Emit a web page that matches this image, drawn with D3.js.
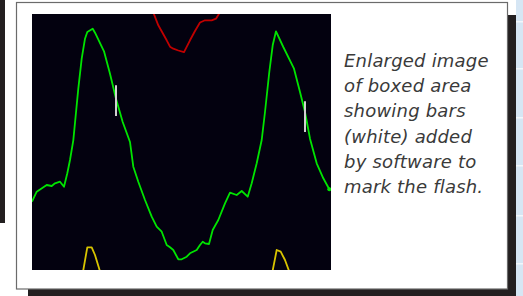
<!DOCTYPE html>
<html><head><meta charset="utf-8">
<script src="https://cdn.jsdelivr.net/npm/d3@7"></script>
<style>html,body{margin:0;padding:0;background:#fff;overflow:hidden}</style>
</head><body>
<script>
// ---- data (x = sample position, y = signal level) ----
const greenX = [0,4.7,14.7,19.7,23,28,32,35.3,38,41.3,46.3,49.7,53,55.3,60.7,63,72,78,84,90.7,98,101.3,106.3,113,119.7,124.7,129.7,134.7,138,141.3,146.3,149.7,154.7,158,164.7,168,170.7,173,177,180.7,186.3,193,198,204.7,209.7,215.7,219.7,224.7,229.7,233,237.3,240.7,244,251.3,262,268,273,278,284.7,291.3,297.3];
const greenY = [68.3,78.3,85,84,86.7,88.3,83.3,96.7,110,129.7,181.3,211.3,231.3,238,241.3,237.3,218.7,196.3,171.3,148,128,103.3,88.3,70,53.3,43.3,38.3,25,22.7,20,10.7,10.7,13.3,16.7,20,25,28.3,26.7,26,40,50,66.7,77.3,75,79,73.3,86.7,106.7,130,158,198,224.7,238.7,223,201.3,178,158,131.3,106.7,91.7,80.7];
const redX = [120.5,121.5,126.3,134.7,138,141.3,146.3,152,158,163,168,173,179.7,184,187.5,188.5];
const redY = [260,257,244.7,229.7,223.3,221.3,219.5,217.8,229.7,239,247.5,249.7,249.7,251.3,257,260];
const yellow1X = [50.8,55.3,59.7,63,68.5];
const yellow1Y = [-3,22.7,22.7,15,-3];
const yellow2X = [240.2,244.7,248.7,253,257.8];
const yellow2Y = [-3,20,18.3,10,-3];
const flashX = [84,273];
const flashTop = [184.7,168.7];
const flashBottom = [154,138];
const captionLines = ["Enlarged image","of boxed area","showing bars","(white) added","by software to","mark the flash."];

const W = 523, H = 296;
const svg = d3.select("body").append("svg").attr("width", W).attr("height", H);

// page decorations
svg.append("rect").attr("x",0).attr("y",0).attr("width",W).attr("height",H).attr("fill","#fff");
svg.append("rect").attr("x",0).attr("y",0).attr("width",5).attr("height",223).attr("fill","#231f20");
const stripe = svg.append("g");
stripe.append("rect").attr("x",516).attr("y",0).attr("width",7).attr("height",H).attr("fill","#d6e6f4");
[21,68,117,165,215,263].forEach(v=>{
  stripe.append("rect").attr("x",516).attr("y",v).attr("width",7).attr("height",1.5).attr("fill","#f2f7fc");
});
// shadow + box
svg.append("rect").attr("x",28).attr("y",15).attr("width",488).attr("height",290).attr("fill","#231f20");
svg.append("rect").attr("x",16.5).attr("y",2.5).attr("width",491).attr("height",286.5)
  .attr("fill","#fff").attr("stroke","#6b6b6b").attr("stroke-width",1.2);

// plot
const x = d3.scaleLinear().domain([0,299]).range([32,331]);
const y = d3.scaleLinear().domain([0,256]).range([270,14]);
svg.append("defs").append("clipPath").attr("id","clip")
  .append("rect").attr("x",32).attr("y",14).attr("width",299).attr("height",256);
svg.append("rect").attr("x",32).attr("y",14).attr("width",299).attr("height",256).attr("fill","#03010f");

const g = svg.append("g").attr("clip-path","url(#clip)");
const line = d3.line().x(d=>x(d[0])).y(d=>y(d[1]));
const zip = (a,b)=>a.map((v,i)=>[v,b[i]]);

g.append("path").datum(zip(redX,redY)).attr("d",line).attr("fill","none")
  .attr("stroke","#c00000").attr("stroke-width",1.8).attr("stroke-linejoin","round");
[[yellow1X,yellow1Y],[yellow2X,yellow2Y]].forEach(([a,b])=>{
  g.append("path").datum(zip(a,b)).attr("d",line).attr("fill","none")
    .attr("stroke","#d8c400").attr("stroke-width",1.8).attr("stroke-linejoin","round");
});
g.append("path").datum(zip(greenX,greenY)).attr("d",line).attr("fill","none")
  .attr("stroke","#00e400").attr("stroke-width",1.8).attr("stroke-linejoin","round");
g.append("circle").attr("cx",x(greenX[greenX.length-1])).attr("cy",y(greenY[greenY.length-1]))
  .attr("r",2).attr("fill","#00e400");

flashX.forEach((fx,i)=>{
  g.append("line").attr("x1",x(fx)).attr("x2",x(fx)).attr("y1",y(flashTop[i])).attr("y2",y(flashBottom[i]))
    .attr("stroke","#d0d0d0").attr("stroke-width",2);
});

// caption
const cap = svg.append("g");
captionLines.forEach((t,i)=>{
  cap.append("text").attr("x",344).attr("y",67+i*25.2)
    .attr("font-family","'DejaVu Sans', sans-serif").attr("font-style","italic")
    .attr("font-size",18).attr("letter-spacing",0.2).attr("fill","#3a3a3a")
    .text(t);
});
</script>
</body></html>
